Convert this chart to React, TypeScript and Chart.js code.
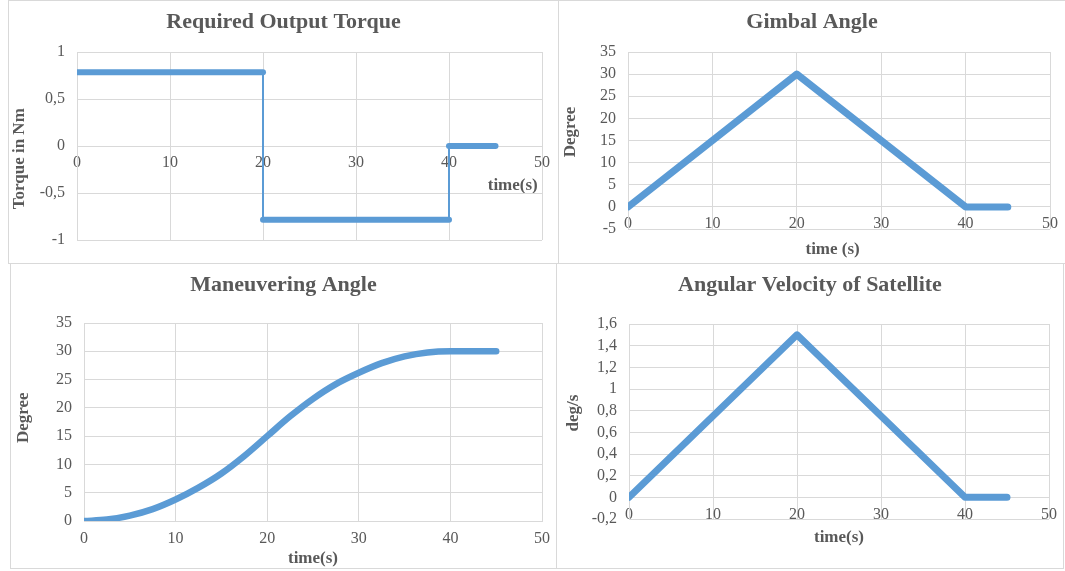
import React, { useEffect, useRef } from "react";
import { Chart, registerables } from "chart.js";

Chart.register(...registerables);

const FONT = "'Liberation Serif', 'Times New Roman', serif";
const LINE_COLOR = "#5B9BD5";
const GRID_COLOR = "#D9D9D9";
const BORDER_COLOR = "#D9D9D9";
const TEXT_COLOR = "#595959";

// shared x axis (time in seconds)
const timeTicks = [0, 10, 20, 30, 40, 50];
const timeTickLabels = ["0", "10", "20", "30", "40", "50"];

// Required Output Torque
const torqueTime = [0, 20, 20, 40, 40, 45];
const torqueValues = [0.785, 0.785, -0.785, -0.785, 0, 0];
const torqueTicks = [-1, -0.5, 0, 0.5, 1];
const torqueTickLabels = ["-1", "-0,5", "0", "0,5", "1"];

// Gimbal Angle
const gimbalTime = [0, 20, 40, 45];
const gimbalAngle = [0, 30, 0, 0];
const gimbalTicks = [-5, 0, 5, 10, 15, 20, 25, 30, 35];
const gimbalTickLabels = ["-5", "0", "5", "10", "15", "20", "25", "30", "35"];

// Maneuvering Angle
const maneuverTime = [0, 2.5, 5, 7.5, 10, 12.5, 15, 17.5, 20, 22.5, 25, 27.5, 30, 32.5, 35, 37.5, 40, 42.5, 45];
const maneuverAngle = [0, 0.25, 0.95, 2.1, 3.8, 5.9, 8.4, 11.5, 15, 18.5, 21.6, 24.2, 26.2, 27.9, 29.1, 29.8, 30, 30, 30];
const maneuverTicks = [0, 5, 10, 15, 20, 25, 30, 35];
const maneuverTickLabels = ["0", "5", "10", "15", "20", "25", "30", "35"];

// Angular Velocity of Satellite
const velocityTime = [0, 20, 40, 45];
const velocityValues = [0, 1.5, 0, 0];
const velocityTicks = [-0.2, 0, 0.2, 0.4, 0.6, 0.8, 1, 1.2, 1.4, 1.6];
const velocityTickLabels = ["-0,2", "0", "0,2", "0,4", "0,6", "0,8", "1", "1,2", "1,4", "1,6"];

type PanelSpec = {
  left: number; top: number; width: number; height: number;
  title: string; titlePadTop: number; titlePadBottom: number;
  xs: number[]; ys: number[];
  yTicks: number[]; yLabels: string[];
  yTitle: string; yTitlePad: number; yAxisWidth: number;
  xTitle: string; xTitleAlign: "start" | "center" | "end";
  xTickPad: number; xAxisHeight: number;
  rightPad: number; bottomPad: number;
  lineWidth: number;
  thinVertical?: boolean; smooth?: boolean;
};

function buildConfig(p: PanelSpec): any {
  const data = p.xs.map((x, i) => ({ x, y: p.ys[i] }));
  const tickFont = { family: FONT, size: 16 };
  const axisTitleFont = { family: FONT, size: 17, weight: "bold" as const };
  return {
    type: "line",
    data: {
      datasets: [
        {
          data,
          borderColor: LINE_COLOR,
          backgroundColor: LINE_COLOR,
          borderWidth: p.lineWidth,
          pointRadius: 0,
          pointHoverRadius: 0,
          borderCapStyle: "round",
          borderJoinStyle: "round",
          tension: p.smooth ? 0.4 : 0,
          cubicInterpolationMode: p.smooth ? "monotone" : "default",
          segment: p.thinVertical
            ? { borderWidth: (ctx: any) => (Math.abs(ctx.p1.parsed.x - ctx.p0.parsed.x) < 0.5 ? 2 : p.lineWidth) }
            : undefined,
        },
      ],
    },
    options: {
      responsive: false,
      animation: false,
      devicePixelRatio: 1,
      events: [],
      layout: { padding: { left: 0, top: 0, right: 0, bottom: p.bottomPad } },
      plugins: {
        legend: { display: false },
        tooltip: { enabled: false },
        title: {
          display: true,
          text: p.title,
          color: TEXT_COLOR,
          font: { family: FONT, size: 22, weight: "bold" },
          padding: { top: p.titlePadTop, bottom: p.titlePadBottom },
        },
      },
      scales: {
        x: {
          type: "linear",
          position: { y: 0 },
          min: timeTicks[0],
          max: timeTicks[timeTicks.length - 1],
          afterBuildTicks: (s: any) => {
            s.ticks = timeTicks.map((v) => ({ value: v }));
          },
          afterFit: (s: any) => {
            s.height = p.xAxisHeight;
            s.paddingLeft = 0;
            s.paddingRight = p.rightPad;
          },
          grid: { color: GRID_COLOR, lineWidth: 1, drawTicks: false },
          border: { color: GRID_COLOR, width: 1 },
          ticks: {
            color: TEXT_COLOR,
            font: tickFont,
            padding: p.xTickPad,
            autoSkip: false,
            maxRotation: 0,
            minRotation: 0,
            callback: (_v: any, i: number) => timeTickLabels[i],
          },
          title: {
            display: true,
            text: p.xTitle,
            align: p.xTitleAlign,
            color: TEXT_COLOR,
            font: axisTitleFont,
            padding: { top: 0, bottom: 0 },
          },
        },
        y: {
          type: "linear",
          position: "left",
          min: p.yTicks[0],
          max: p.yTicks[p.yTicks.length - 1],
          afterBuildTicks: (s: any) => {
            s.ticks = p.yTicks.map((v) => ({ value: v }));
          },
          afterFit: (s: any) => {
            s.width = p.yAxisWidth;
            s.paddingTop = 0;
            s.paddingBottom = 0;
          },
          grid: { color: GRID_COLOR, lineWidth: 1, drawTicks: false },
          border: { color: GRID_COLOR, width: 1 },
          ticks: {
            color: TEXT_COLOR,
            font: tickFont,
            padding: 12,
            autoSkip: false,
            callback: (_v: any, i: number) => p.yLabels[i],
          },
          title: {
            display: true,
            text: p.yTitle,
            color: TEXT_COLOR,
            font: axisTitleFont,
            padding: { top: p.yTitlePad, bottom: 0 },
          },
        },
      },
    },
  };
}

const panels: PanelSpec[] = [
  {
    left: 8, top: 0, width: 551, height: 264,
    title: "Required Output Torque", titlePadTop: 9, titlePadBottom: 16.6,
    xs: torqueTime, ys: torqueValues,
    yTicks: torqueTicks, yLabels: torqueTickLabels,
    yTitle: "Torque in Nm      ", yTitlePad: 1.8, yAxisWidth: 69,
    xTitle: "time(s) ", xTitleAlign: "end",
    xTickPad: 7, xAxisHeight: 50,
    rightPad: 17, bottomPad: 24,
    lineWidth: 6,
    thinVertical: true,
  },
  {
    left: 558, top: 0, width: 508, height: 264,
    title: "Gimbal Angle", titlePadTop: 9, titlePadBottom: 16.6,
    xs: gimbalTime, ys: gimbalAngle,
    yTicks: gimbalTicks, yLabels: gimbalTickLabels,
    yTitle: "    Degree", yTitlePad: 2.8, yAxisWidth: 70,
    xTitle: "time (s)   ", xTitleAlign: "center",
    xTickPad: 7, xAxisHeight: 53,
    rightPad: 16, bottomPad: 35,
    lineWidth: 7,
  },
  {
    left: 10, top: 263, width: 547, height: 306,
    title: "Maneuvering Angle", titlePadTop: 9, titlePadBottom: 24.6,
    xs: maneuverTime, ys: maneuverAngle,
    yTicks: maneuverTicks, yLabels: maneuverTickLabels,
    yTitle: "  Degree", yTitlePad: 3.3, yAxisWidth: 74,
    xTitle: "time(s)", xTitleAlign: "center",
    xTickPad: 8, xAxisHeight: 48,
    rightPad: 15, bottomPad: 48,
    lineWidth: 6.5,
    smooth: true,
  },
  {
    left: 556, top: 263, width: 508, height: 306,
    title: "Angular Velocity of Satellite", titlePadTop: 9.5, titlePadBottom: 25.1,
    xs: velocityTime, ys: velocityValues,
    yTicks: velocityTicks, yLabels: velocityTickLabels,
    yTitle: "    deg/s", yTitlePad: 7, yAxisWidth: 73,
    xTitle: "time(s)", xTitleAlign: "center",
    xTickPad: 8, xAxisHeight: 50,
    rightPad: 15, bottomPad: 50,
    lineWidth: 7,
  },
];

function ChartPanel({ spec }: { spec: PanelSpec }) {
  const ref = useRef<HTMLCanvasElement>(null);
  useEffect(() => {
    if (!ref.current) return;
    const chart = new Chart(ref.current, buildConfig(spec));
    return () => chart.destroy();
  }, [spec]);
  const box: React.CSSProperties = {
    position: "absolute",
    left: spec.left,
    top: spec.top,
    width: spec.width,
    height: spec.height,
  };
  return (
    <>
      <div style={{ ...box, border: `1px solid ${BORDER_COLOR}`, boxSizing: "border-box" }} />
      <canvas ref={ref} width={spec.width} height={spec.height} style={box} />
    </>
  );
}

export default function App() {
  return (
    <div
      style={{
        position: "absolute",
        left: 0,
        top: 0,
        width: 1065,
        height: 571,
        background: "#ffffff",
        overflow: "hidden",
      }}
    >
      {panels.map((p, i) => (
        <ChartPanel key={i} spec={p} />
      ))}
    </div>
  );
}
